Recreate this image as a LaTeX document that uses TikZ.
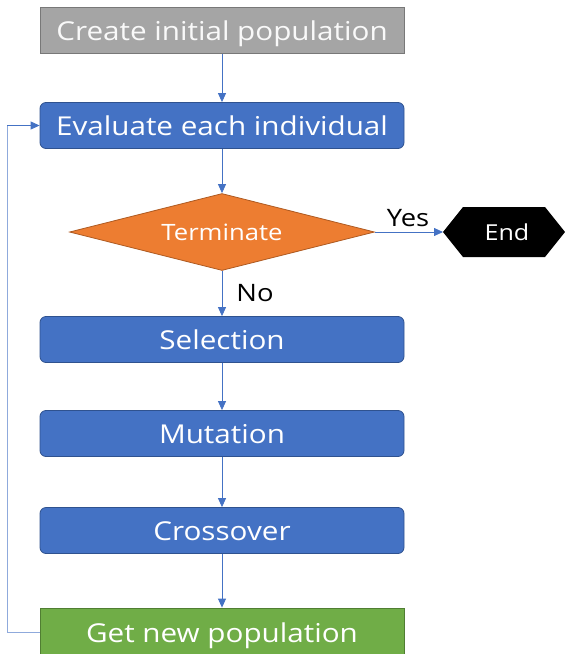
\documentclass[tikz,border=0pt]{standalone}
\usepackage{fontspec}
\setmainfont[FakeStretch=1.14]{Open Sans}
\usetikzlibrary{arrows.meta,shapes.geometric}
\definecolor{bluefill}{HTML}{4472C4}
\definecolor{blueline}{HTML}{2F528F}
\definecolor{grayfill}{HTML}{A5A5A5}
\definecolor{grayline}{HTML}{787878}
\definecolor{greenfill}{HTML}{70AD47}
\definecolor{greenline}{HTML}{507E32}
\definecolor{orangefill}{HTML}{ED7D31}
\definecolor{orangeline}{HTML}{AE5A21}
\definecolor{arrowblue}{HTML}{4472C4}
\definecolor{loopblue}{HTML}{8FAADC}
\tikzset{
  boxbase/.style={minimum width=364pt, minimum height=46pt, inner sep=0pt, line width=0.8pt,
    text=white, font=\fontsize{26}{30}\selectfont, text height=23.4pt, text depth=3.4pt},
  bluebox/.style={boxbase, rounded corners=6pt, fill=bluefill, draw=blueline},
  graybox/.style={boxbase, fill=grayfill, draw=grayline, text=white!95!gray},
  greenbox/.style={boxbase, fill=greenfill, draw=greenline},
  decision/.style={diamond, aspect=3.96, minimum width=305pt, minimum height=77pt, inner sep=0pt,
    fill=orangefill, draw=orangeline, line width=0.8pt, text=white, font=\fontsize{22.5}{26}\selectfont},
  flow/.style={draw=arrowblue, line width=0.8pt, -{Triangle[length=9pt,width=8pt]}},
  lbl/.style={text=black, font=\fontsize{24}{28}\selectfont, inner sep=0pt}
}
\begin{document}
\begin{tikzpicture}[x=1pt,y=-1pt]
\useasboundingbox (0,0) rectangle (565,654);
\node[graybox] (create) at (222,30.5) {Create initial population};
\node[bluebox] (eval) at (222,125.5) {Evaluate each individual};
\node[decision] (term) at (222,232) {Terminate};
\fill (443,232) -- (463,207) -- (545,207) -- (565,232) -- (545,257) -- (463,257) -- cycle;
\coordinate (endpt) at (443,232);
\node[text=white, font=\fontsize{22}{26}\selectfont, inner sep=0pt] (endlbl) at (507,232) {End};
\node[bluebox] (sel) at (222,339.5) {Selection};
\node[bluebox] (mut) at (222,433.5) {Mutation};
\node[bluebox] (cross) at (222,530.5) {Crossover};
\node[greenbox, minimum height=48pt] (newpop) at (222,632) {Get new population};
\node[lbl] (yes) at (408,218) {Yes};
\node[lbl] (no) at (255,293) {No};
\coordinate (loopbot) at (7,632);
\coordinate (looptop) at (7,125.5);
\draw[flow] (create) -- (eval);
\draw[flow] (eval) -- (term);
\draw[flow] (term.east) -- (endpt);
\draw[flow] (term) -- (sel);
\draw[flow] (sel) -- (mut);
\draw[flow] (mut) -- (cross);
\draw[flow] (cross) -- (newpop);
\draw[draw=loopblue, line width=1pt] (newpop.west) -- (loopbot) -- (looptop);
\draw[flow] (looptop) -- (eval.west);
\end{tikzpicture}
\end{document}
